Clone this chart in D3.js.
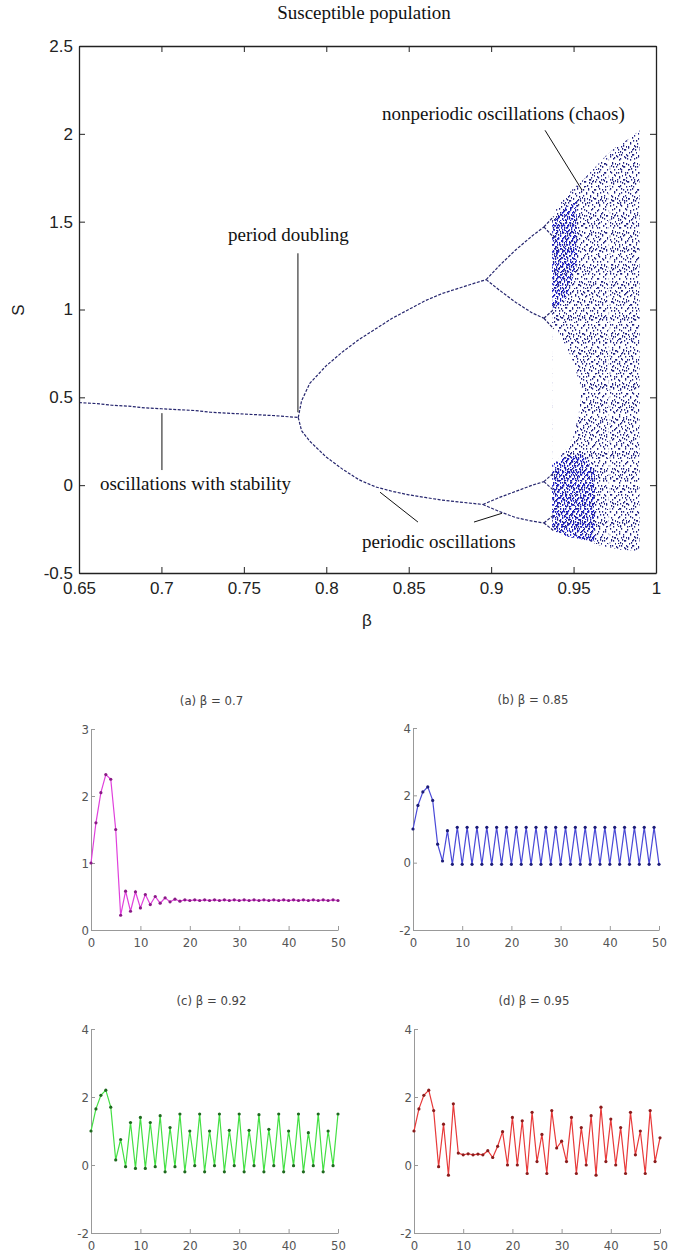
<!DOCTYPE html>
<html>
<head>
<meta charset="utf-8">
<script src="https://cdn.jsdelivr.net/npm/d3@7"></script>
<style>
body { margin: 0; background: #fff; }
svg { display: block; }
.ann { font-family: "Liberation Serif", "DejaVu Serif", "Times New Roman", serif; font-size: 19px; fill: #111; }
.main .tick text { font-family: "Liberation Sans", Arial, sans-serif; font-size: 17px; fill: #222; }
.small .tick text { font-family: "DejaVu Sans Condensed", "Liberation Sans Narrow", sans-serif; font-size: 13px; fill: #555; }
.stitle { font-family: "DejaVu Sans Condensed", "Liberation Sans Narrow", sans-serif; font-size: 13px; fill: #444; }
</style>
</head>
<body>
<script>
// bifurcatie takken: [beta, S]
var stable = [[0.65, 0.47], [0.66, 0.465], [0.67, 0.455], [0.68, 0.45], [0.69, 0.44], [0.70, 0.435], [0.71, 0.43],
    [0.72, 0.425], [0.73, 0.415], [0.74, 0.41], [0.75, 0.405], [0.76, 0.40], [0.77, 0.395], [0.783, 0.385]];
var upper2 = [[0.783, 0.385], [0.785, 0.48], [0.79, 0.58], [0.80, 0.68], [0.81, 0.76], [0.82, 0.83], [0.83, 0.89],
    [0.84, 0.95], [0.85, 1.00], [0.86, 1.05], [0.87, 1.09], [0.88, 1.12], [0.89, 1.15], [0.897, 1.17]];
var lower2 = [[0.783, 0.385], [0.785, 0.31], [0.79, 0.25], [0.80, 0.16], [0.81, 0.09], [0.82, 0.03], [0.83, -0.01],
    [0.84, -0.035], [0.85, -0.055], [0.86, -0.07], [0.87, -0.085], [0.88, -0.095], [0.895, -0.11]];
var p4a = [[0.897, 1.17], [0.905, 1.25], [0.915, 1.34], [0.925, 1.42], [0.932, 1.47]];
var p4b = [[0.897, 1.17], [0.905, 1.11], [0.915, 1.04], [0.925, 0.98], [0.932, 0.95]];
var p4c = [[0.895, -0.11], [0.905, -0.07], [0.915, -0.035], [0.925, 0.0], [0.932, 0.02]];
var p4d = [[0.895, -0.11], [0.905, -0.15], [0.915, -0.185], [0.925, -0.205], [0.932, -0.215]];
var p8 = [
    [[0.932, 1.47], [0.938, 1.53]], [[0.932, 1.47], [0.938, 1.41]],
    [[0.932, 0.95], [0.938, 1.0]], [[0.932, 0.95], [0.938, 0.89]],
    [[0.932, 0.02], [0.938, 0.07]], [[0.932, 0.02], [0.938, -0.03]],
    [[0.932, -0.215], [0.938, -0.17]], [[0.932, -0.215], [0.938, -0.26]]
];

// chaos gebied: boven- en ondergrens per beta
var chaosBeta = [0.937, 0.94, 0.945, 0.95, 0.955, 0.96, 0.965, 0.97, 0.975, 0.98, 0.985, 0.99];
var chaosTop = [1.52, 1.58, 1.64, 1.69, 1.73, 1.78, 1.83, 1.88, 1.92, 1.95, 1.98, 2.02];
var chaosBot = [-0.25, -0.27, -0.29, -0.30, -0.31, -0.32, -0.34, -0.35, -0.36, -0.37, -0.37, -0.38];
// leeg stuk in het midden bij het begin van de chaos
var gapBeta = [0.937, 0.94, 0.945, 0.95, 0.953, 0.955];
var gapLo = [0.08, 0.14, 0.2, 0.28, 0.4, 0.55];
var gapHi = [0.92, 0.88, 0.8, 0.7, 0.6, 0.55];
// dichte (lichtere blauwe) banden
var denseBeta = [0.937, 0.945, 0.955, 0.963];
var denseLoBot = [-0.25, -0.29, -0.31, -0.32];
var denseLoTop = [0.12, 0.16, 0.18, 0.08];
var denseHiBeta = [0.937, 0.945, 0.952];
var denseHiBot = [1.0, 1.05, 1.25];
var denseHiTop = [1.5, 1.58, 1.62];
var windowBeta = [0.9715];

var xTicks = [0.65, 0.7, 0.75, 0.8, 0.85, 0.9, 0.95, 1];
var yTicks = [-0.5, 0, 0.5, 1, 1.5, 2, 2.5];

// tekst annotaties [beta, S] met een lijntje
var annotations = [
    { text: "period doubling", at: [0.7404, 1.39], line: [[0.7828, 1.32], [0.7828, 0.415]] },
    { text: "oscillations with stability", at: [0.6627, -0.03], line: [[0.7003, 0.41], [0.7003, 0.086]] },
    { text: "periodic oscillations", at: [0.8217, -0.36], line: [[0.8556, -0.21], [0.8326, -0.04]] },
    { text: "", at: [0, 0], line: [[0.8896, -0.21], [0.9066, -0.16]] },
    { text: "nonperiodic oscillations (chaos)", at: [0.8338, 2.08], line: [[0.9327, 2.02], [0.9551, 1.68]] }
];

// tijdreeksen t = 0..50
var seriesA = [1.0, 1.6, 2.05, 2.32, 2.25, 1.5, 0.22, 0.58, 0.28, 0.57, 0.33, 0.53, 0.38, 0.5, 0.4, 0.48, 0.42, 0.46, 0.43, 0.45,
    0.44, 0.45, 0.44, 0.45, 0.44, 0.45, 0.44, 0.45, 0.44, 0.45, 0.44, 0.45, 0.44, 0.45, 0.44, 0.45, 0.44, 0.45, 0.44, 0.45,
    0.44, 0.45, 0.44, 0.45, 0.44, 0.45, 0.44, 0.45, 0.44, 0.45, 0.44];
var seriesB = [1.0, 1.7, 2.1, 2.25, 1.85, 0.55, 0.05, 0.95, -0.05, 1.05, -0.05, 1.05, -0.05, 1.05, -0.05, 1.05, -0.05, 1.05, -0.05, 1.05,
    -0.05, 1.05, -0.05, 1.05, -0.05, 1.05, -0.05, 1.05, -0.05, 1.05, -0.05, 1.05, -0.05, 1.05, -0.05, 1.05, -0.05, 1.05, -0.05, 1.05,
    -0.05, 1.05, -0.05, 1.05, -0.05, 1.05, -0.05, 1.05, -0.05, 1.05, -0.05];
var seriesC = [1.0, 1.65, 2.05, 2.2, 1.7, 0.15, 0.75, -0.05, 1.25, -0.1, 1.4, -0.1, 1.25, -0.05, 1.45, -0.2, 1.1, -0.05, 1.5, -0.2,
    1.0, -0.02, 1.5, -0.2, 1.0, -0.02, 1.5, -0.2, 1.02, -0.02, 1.5, -0.2, 1.02, -0.02, 1.48, -0.2, 1.05, -0.02, 1.5, -0.2,
    1.0, -0.02, 1.5, -0.2, 0.95, -0.02, 1.5, -0.2, 1.0, -0.02, 1.5];
var seriesD = [1.0, 1.65, 2.05, 2.2, 1.6, -0.05, 1.2, -0.3, 1.8, 0.35, 0.3, 0.33, 0.3, 0.32, 0.3, 0.42, 0.22, 0.55, 0.98, 0.0,
    1.4, 0.0, 1.3, -0.25, 1.55, 0.1, 0.9, -0.25, 1.6, 0.5, 0.7, 0.1, 1.4, -0.25, 1.1, 0.0, 1.45, -0.3, 1.7, 0.1,
    1.35, 0.0, 1.1, -0.25, 1.55, 0.3, 1.0, -0.25, 1.6, 0.1, 0.8];
var tTicks = [0, 10, 20, 30, 40, 50];

var panels = [
    { title: "(a) β = 0.7", values: seriesA, yDomain: [0, 3], yTicks: [0, 1, 2, 3], line: "#e040dc", dot: "#8a1a86", x: [91, 338], y: [930, 729] },
    { title: "(b) β = 0.85", values: seriesB, yDomain: [-2, 4], yTicks: [-2, 0, 2, 4], line: "#4a4ad8", dot: "#1c1c78", x: [413, 659], y: [930, 728] },
    { title: "(c) β = 0.92", values: seriesC, yDomain: [-2, 4], yTicks: [-2, 0, 2, 4], line: "#44e044", dot: "#1f6a1f", x: [91, 338], y: [1233, 1029] },
    { title: "(d) β = 0.95", values: seriesD, yDomain: [-2, 4], yTicks: [-2, 0, 2, 4], line: "#e83a3a", dot: "#8a1c1c", x: [414, 660], y: [1233, 1029] }
];

var W = 675, H = 1256;
var svg = d3.select("body").append("svg")
    .attr("width", W)
    .attr("height", H);

// patronen voor de chaos stippen (twee tegels met andere maat over elkaar)
var defs = svg.append("defs");
function dotPattern(id, w, h, dots, color, dw, dh) {
    var p = defs.append("pattern").attr("id", id).attr("patternUnits", "userSpaceOnUse")
        .attr("width", w).attr("height", h);
    p.selectAll("rect").data(dots).enter().append("rect")
        .attr("x", d => d[0]).attr("y", d => d[1]).attr("width", dw).attr("height", dh)
        .attr("fill", color);
}
dotPattern("sparseA", 11, 17, [[0, 2], [1, 11], [3, 6], [4, 15], [5, 1], [7, 9], [8, 13], [9, 4], [10, 10], [2, 16], [6, 12]], "#1a1a78", 1.2, 1.7);
dotPattern("sparseB", 7, 23, [[0, 5], [1, 18], [2, 11], [3, 2], [4, 20], [5, 8], [6, 14], [3, 16]], "#22228a", 1.2, 1.6);
dotPattern("denseA", 5, 13, [[0, 1], [1, 6], [2, 10], [3, 3], [4, 8], [0, 12], [2, 4]], "#1a1ad0", 1.2, 1.8);
dotPattern("denseB", 9, 11, [[0, 7], [2, 2], [4, 9], [6, 5], [8, 0], [7, 10]], "#2020b0", 1.2, 1.6);

// hoofd grafiek
var x = d3.scaleLinear().domain([0.65, 1]).range([79, 656]);
var y = d3.scaleLinear().domain([-0.5, 2.5]).range([573, 46]);

var main = svg.append("g").attr("class", "main");

var line = d3.line()
    .x(d => x(d[0]))
    .y(d => y(d[1]));

function area(betas, lo, hi) {
    return d3.area()
        .x(i => x(betas[i]))
        .y0(i => y(lo[i]))
        .y1(i => y(hi[i]))(d3.range(betas.length));
}

// chaos
var chaos = area(chaosBeta, chaosBot, chaosTop);
main.append("path").attr("d", chaos).attr("fill", "url(#sparseA)");
main.append("path").attr("d", chaos).attr("fill", "url(#sparseB)");
main.append("path").attr("d", area(gapBeta, gapLo, gapHi)).attr("fill", "#fff");
[[denseBeta, denseLoBot, denseLoTop], [denseHiBeta, denseHiBot, denseHiTop]].forEach(function (b) {
    var d = area(b[0], b[1], b[2]);
    main.append("path").attr("d", d).attr("fill", "url(#denseA)");
    main.append("path").attr("d", d).attr("fill", "url(#denseB)");
});
main.selectAll(".window").data(windowBeta).enter().append("line")
    .attr("x1", d => x(d)).attr("x2", d => x(d))
    .attr("y1", y(1.9)).attr("y2", y(-0.4))
    .attr("stroke", "#fff").attr("stroke-width", 1.5);

// takken
var branches = [stable, upper2, lower2, p4a, p4b, p4c, p4d].concat(p8);
main.selectAll(".branch").data(branches).enter().append("path")
    .attr("class", "branch")
    .attr("d", line)
    .attr("fill", "none")
    .attr("stroke", "#26266e")
    .attr("stroke-width", 1.2)
    .attr("stroke-dasharray", "3,1.5");

// assen met ticks naar binnen
main.append("g").attr("transform", "translate(0,573)")
    .call(d3.axisBottom(x).tickValues(xTicks).tickFormat(d => String(d)).tickSizeInner(-6).tickSizeOuter(0).tickPadding(9));
main.append("g").attr("transform", "translate(0,46)")
    .call(d3.axisTop(x).tickValues(xTicks).tickFormat("").tickSizeInner(-6).tickSizeOuter(0));
main.append("g").attr("transform", "translate(79,0)")
    .call(d3.axisLeft(y).tickValues(yTicks).tickFormat(d => String(d)).tickSizeInner(-6).tickSizeOuter(0).tickPadding(6));
main.append("g").attr("transform", "translate(656,0)")
    .call(d3.axisRight(y).tickValues(yTicks).tickFormat("").tickSizeInner(-6).tickSizeOuter(0));
main.selectAll(".domain").attr("stroke", "#222").attr("stroke-width", 1.3);
main.selectAll(".tick line").attr("stroke", "#222");

main.append("text").attr("class", "ann")
    .attr("x", 364).attr("y", 19)
    .attr("text-anchor", "middle")
    .text("Susceptible population");
main.append("text")
    .attr("x", 367).attr("y", 626)
    .attr("text-anchor", "middle")
    .style("font-family", "Liberation Sans, Arial, sans-serif").style("font-size", "17px").style("fill", "#222")
    .text("β");
main.append("text")
    .attr("transform", "translate(24,310) rotate(-90)")
    .attr("text-anchor", "middle")
    .style("font-family", "Liberation Sans, Arial, sans-serif").style("font-size", "17px").style("fill", "#222")
    .text("S");

// annotaties
annotations.forEach(function (a) {
    main.append("path").attr("d", line(a.line)).attr("stroke", "#111").attr("stroke-width", 1);
    if (a.text) {
        main.append("text").attr("class", "ann")
            .attr("x", x(a.at[0])).attr("y", y(a.at[1]))
            .text(a.text);
    }
});

// kleine grafieken
panels.forEach(function (p) {
    var px = d3.scaleLinear().domain([0, 50]).range(p.x);
    var py = d3.scaleLinear().domain(p.yDomain).range(p.y);
    var g = svg.append("g").attr("class", "small");

    g.append("g").attr("transform", "translate(0," + p.y[0] + ")")
        .call(d3.axisBottom(px).tickValues(tTicks).tickFormat(d => String(d)).tickSizeInner(-4).tickSizeOuter(0).tickPadding(8));
    g.append("g").attr("transform", "translate(" + p.x[0] + ",0)")
        .call(d3.axisLeft(py).tickValues(p.yTicks).tickFormat(d => String(d)).tickSizeInner(-4).tickSizeOuter(0).tickPadding(2));
    g.selectAll(".domain").attr("stroke", "#999");
    g.selectAll(".tick line").attr("stroke", "#999");

    var sline = d3.line()
        .x((d, i) => px(i))
        .y(d => py(d));
    g.append("path")
        .attr("d", sline(p.values))
        .attr("fill", "none")
        .attr("stroke", p.line)
        .attr("stroke-width", 1.2);
    g.selectAll(".dot").data(p.values).enter().append("circle")
        .attr("cx", (d, i) => px(i))
        .attr("cy", d => py(d))
        .attr("r", 1.6)
        .attr("fill", p.dot);

    g.append("text").attr("class", "stitle")
        .attr("x", (p.x[0] + p.x[1]) / 2 - 3)
        .attr("y", p.y[1] - 24)
        .attr("text-anchor", "middle")
        .text(p.title);
});
</script>
</body>
</html>
